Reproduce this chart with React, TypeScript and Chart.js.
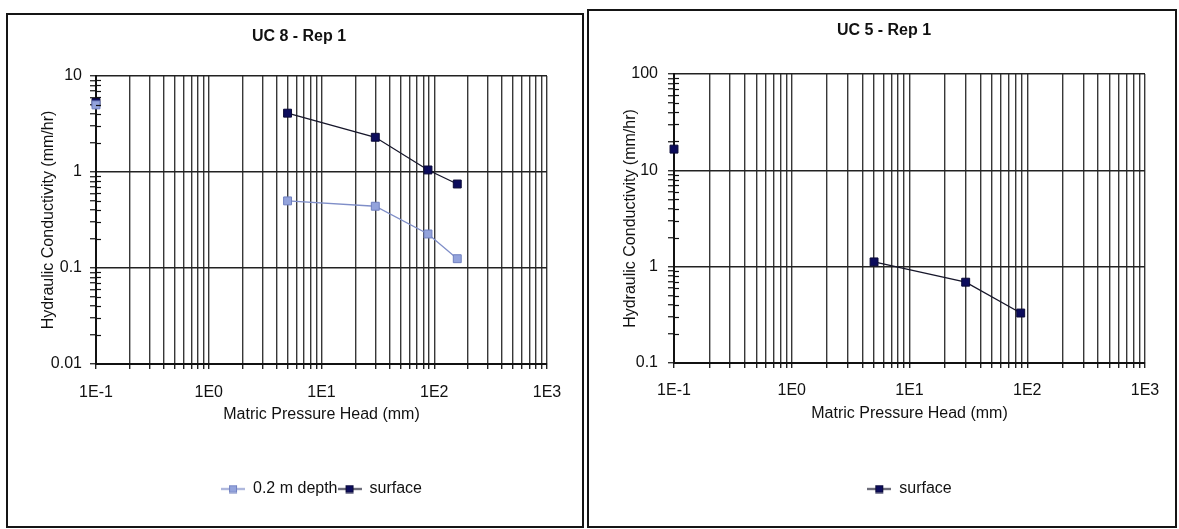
import React, { useEffect, useRef } from "react";
import { Chart, registerables } from "chart.js";

Chart.register(...registerables);

const FONT_FAMILY = "Arial, 'Liberation Sans', Helvetica, sans-serif";
const INK = "#111111";

// Shared log axis for matric pressure head (mm)
const X_DECADES = [0.1, 1, 10, 100, 1000];
const X_TICK_LABELS = ["1E-1", "1E0", "1E1", "1E2", "1E3"];
const MINOR_MULTIPLIERS = [2, 3, 4, 5, 6, 7, 8, 9];

const X_TITLE = "Matric Pressure Head (mm)";
const Y_TITLE = "Hydraulic Conductivity (mm/hr)";

// UC 8 - Rep 1
const UC8_TITLE = "UC 8 - Rep 1";
const UC8_Y_DECADES = [0.01, 0.1, 1, 10];
const UC8_Y_TICK_LABELS = ["0.01", "0.1", "1", "10"];
const UC8_HEAD = [0.1, 5, 30, 88, 160];
const UC8_DEPTH_K = [5.0, 0.5, 0.44, 0.226, 0.125];
const UC8_SURFACE_K = [5.3, 4.1, 2.3, 1.05, 0.75];

// UC 5 - Rep 1
const UC5_TITLE = "UC 5 - Rep 1";
const UC5_Y_DECADES = [0.1, 1, 10, 100];
const UC5_Y_TICK_LABELS = ["0.1", "1", "10", "100"];
const UC5_HEAD = [0.1, 5, 30, 88];
const UC5_SURFACE_K = [16.6, 1.12, 0.69, 0.33];

const DEPTH_LABEL = "0.2 m depth";
const SURFACE_LABEL = "surface";

const DEPTH_STYLE = { line: "#7f8ec8", fill: "#93a3dc", edge: "#7080c0" };
const SURFACE_STYLE = { line: "#16162a", fill: "#0c0c5c", edge: "#0a0a38" };

// ---------------------------------------------------------------------------

const sameDecade = (v: number, d: number) => Math.abs(Math.log10(v) - Math.log10(d)) < 1e-6;

function decadeTicks(decades: number[]) {
  const values: number[] = [];
  decades.forEach((d, i) => {
    values.push(d);
    if (i < decades.length - 1) MINOR_MULTIPLIERS.forEach((m) => values.push(d * m));
  });
  return values;
}

function labelFor(value: number, decades: number[], labels: string[]) {
  const i = decades.findIndex((d) => sameDecade(value, d));
  return i >= 0 ? labels[i] : "";
}

// The first reading (ponded, plotted on the axis) is not joined to the tension run.
function toPoints(head: number[], k: number[]) {
  const pts = head.map((h, i) => ({ x: h, y: k[i] as number | null }));
  return [pts[0], { x: head[0], y: null }, ...pts.slice(1)];
}

function legendGlyph(style: { line: string; fill: string; edge: string }) {
  const c = document.createElement("canvas");
  c.width = 24;
  c.height = 9;
  const g = c.getContext("2d")!;
  g.strokeStyle = style.line;
  g.lineWidth = 1.5;
  g.beginPath();
  g.moveTo(0, 4.5);
  g.lineTo(24, 4.5);
  g.stroke();
  g.fillStyle = style.fill;
  g.fillRect(8.5, 1, 7, 7);
  g.strokeStyle = style.edge;
  g.lineWidth = 1;
  g.strokeRect(8.5, 1, 7, 7);
  return c;
}

function series(label: string, head: number[], k: number[], style: typeof DEPTH_STYLE) {
  return {
    label,
    data: toPoints(head, k),
    borderColor: style.line,
    backgroundColor: style.fill,
    borderWidth: 1.3,
    pointStyle: "rect",
    pointRadius: 5.6,
    pointBorderColor: style.edge,
    pointBackgroundColor: style.fill,
    pointBorderWidth: 1,
    spanGaps: false,
    tension: 0,
    clip: false,
    glyph: style,
  };
}

// Short inward halves of the minor y ticks, so they cross the axis line
const crossTicks = {
  id: "crossTicks",
  afterDraw(chart: any, _args: any, opts: any) {
    const s = chart.scales.y;
    const ctx = chart.ctx;
    ctx.save();
    ctx.strokeStyle = INK;
    ctx.lineWidth = 1.2;
    s.ticks.forEach((t: any) => {
      if (opts.decades.some((d: number) => sameDecade(t.value, d))) return;
      const y = Math.round(s.getPixelForValue(t.value)) + 0.5;
      ctx.beginPath();
      ctx.moveTo(s.right, y);
      ctx.lineTo(s.right + 5, y);
      ctx.stroke();
    });
    ctx.restore();
  },
};

type Panel = {
  title: string;
  yDecades: number[];
  yLabels: string[];
  datasets: any[];
  frame: { left: number; top: number; width: number; height: number };
  canvas: { left: number; top: number; width: number; height: number };
  yAxisWidth: number;
  rightGutter: number;
  titlePad: { top: number; bottom: number };
  xAxisHeight: number;
  xTickPad: number;
  xTitlePad: number;
  yTickPad: number;
  yTitlePad: number;
};

function buildConfig(p: Panel): any {
  const xTicks = decadeTicks(X_DECADES);
  const yTicks = decadeTicks(p.yDecades);
  const font = { family: FONT_FAMILY, size: 16 };
  return {
    type: "line",
    data: { datasets: p.datasets },
    plugins: [crossTicks],
    options: {
      animation: false,
      responsive: false,
      events: [],
      layout: { padding: { top: 0, left: 0, right: 0, bottom: 20 } },
      plugins: {
        tooltip: { enabled: false },
        crossTicks: { decades: p.yDecades },
        title: {
          display: true,
          text: p.title,
          color: INK,
          font: { family: FONT_FAMILY, size: 16, weight: "bold" },
          padding: p.titlePad,
        },
        legend: {
          position: "bottom",
          fullSize: false,
          labels: {
            usePointStyle: true,
            pointStyleWidth: 24,
            padding: 0,
            color: INK,
            font,
            generateLabels: (chart: any) =>
              Chart.defaults.plugins.legend.labels
                .generateLabels(chart)
                .map((item: any) => ({
                  ...item,
                  pointStyle: legendGlyph(chart.data.datasets[item.datasetIndex].glyph),
                })),
          },
        },
      },
      scales: {
        x: {
          type: "logarithmic",
          position: "bottom",
          min: X_DECADES[0],
          max: X_DECADES[X_DECADES.length - 1],
          afterBuildTicks: (s: any) => {
            s.ticks = xTicks.map((v) => ({ value: v }));
          },
          afterFit: (s: any) => {
            s.height = p.xAxisHeight;
          },
          ticks: {
            autoSkip: false,
            maxRotation: 0,
            padding: p.xTickPad,
            color: INK,
            font,
            callback: (v: number) => labelFor(v, X_DECADES, X_TICK_LABELS),
          },
          grid: { color: "#383838", lineWidth: 1.4, tickLength: 5, tickColor: "#222" },
          border: { color: INK, width: 2 },
          title: {
            display: true,
            text: X_TITLE,
            color: INK,
            font,
            padding: { top: 0, bottom: p.xTitlePad },
          },
        },
        y: {
          type: "logarithmic",
          position: "left",
          min: p.yDecades[0],
          max: p.yDecades[p.yDecades.length - 1],
          afterBuildTicks: (s: any) => {
            s.ticks = yTicks.map((v) => ({ value: v }));
          },
          afterFit: (s: any) => {
            s.width = p.yAxisWidth;
          },
          ticks: {
            autoSkip: false,
            padding: p.yTickPad,
            color: INK,
            font,
            callback: (v: number) => labelFor(v, p.yDecades, p.yLabels),
          },
          grid: {
            color: (c: any) =>
              c.tick && p.yDecades.some((d) => sameDecade(c.tick.value, d)) ? "#222" : "rgba(0,0,0,0)",
            lineWidth: 1.5,
            tickLength: 6,
            tickColor: INK,
            tickWidth: 1.2,
          },
          border: { color: INK, width: 2 },
          title: {
            display: true,
            text: Y_TITLE,
            color: INK,
            font,
            padding: { top: p.yTitlePad, bottom: 0 },
          },
        },
        gutter: {
          type: "linear",
          position: "right",
          display: true,
          grid: { display: false, drawTicks: false },
          ticks: { display: false },
          border: { display: false },
          afterFit: (s: any) => {
            s.width = p.rightGutter;
          },
        },
      },
    },
  };
}

function LogPanel({ panel }: { panel: Panel }) {
  const ref = useRef<HTMLCanvasElement | null>(null);
  useEffect(() => {
    if (!ref.current) return;
    const chart = new Chart(ref.current, buildConfig(panel));
    return () => chart.destroy();
  }, [panel]);
  const { frame, canvas } = panel;
  return (
    <>
      <div
        style={{
          position: "absolute",
          left: frame.left,
          top: frame.top,
          width: frame.width,
          height: frame.height,
          boxSizing: "border-box",
          border: "2px solid #151515",
          background: "#fff",
        }}
      />
      <canvas
        ref={ref}
        width={canvas.width}
        height={canvas.height}
        style={{
          position: "absolute",
          left: canvas.left,
          top: canvas.top,
          width: canvas.width,
          height: canvas.height,
        }}
      />
    </>
  );
}

const UC8_PANEL: Panel = {
  title: UC8_TITLE,
  yDecades: UC8_Y_DECADES,
  yLabels: UC8_Y_TICK_LABELS,
  datasets: [
    series(DEPTH_LABEL, UC8_HEAD, UC8_DEPTH_K, DEPTH_STYLE),
    series(SURFACE_LABEL, UC8_HEAD, UC8_SURFACE_K, SURFACE_STYLE),
  ],
  frame: { left: 6, top: 13, width: 578, height: 515 },
  canvas: { left: 21, top: 15, width: 556, height: 512 },
  yAxisWidth: 75,
  rightGutter: 30,
  titlePad: { top: 12.4, bottom: 29.4 },
  xAxisHeight: 117,
  xTickPad: 14,
  xTitlePad: 56.4,
  yTickPad: 8,
  yTitlePad: 18.4,
};

const UC5_PANEL: Panel = {
  title: UC5_TITLE,
  yDecades: UC5_Y_DECADES,
  yLabels: UC5_Y_TICK_LABELS,
  datasets: [series(SURFACE_LABEL, UC5_HEAD, UC5_SURFACE_K, SURFACE_STYLE)],
  frame: { left: 587, top: 9, width: 590, height: 519 },
  canvas: { left: 593, top: 10, width: 582, height: 517 },
  yAxisWidth: 81,
  rightGutter: 30,
  titlePad: { top: 11.4, bottom: 33.4 },
  xAxisHeight: 118,
  xTickPad: 13.4,
  xTitlePad: 57.4,
  yTickPad: 10,
  yTitlePad: 28.4,
};

export default function App() {
  return (
    <div
      style={{
        position: "absolute",
        left: 0,
        top: 0,
        width: 1179,
        height: 529,
        background: "#fff",
        overflow: "hidden",
      }}
    >
      <LogPanel panel={UC8_PANEL} />
      <LogPanel panel={UC5_PANEL} />
    </div>
  );
}
